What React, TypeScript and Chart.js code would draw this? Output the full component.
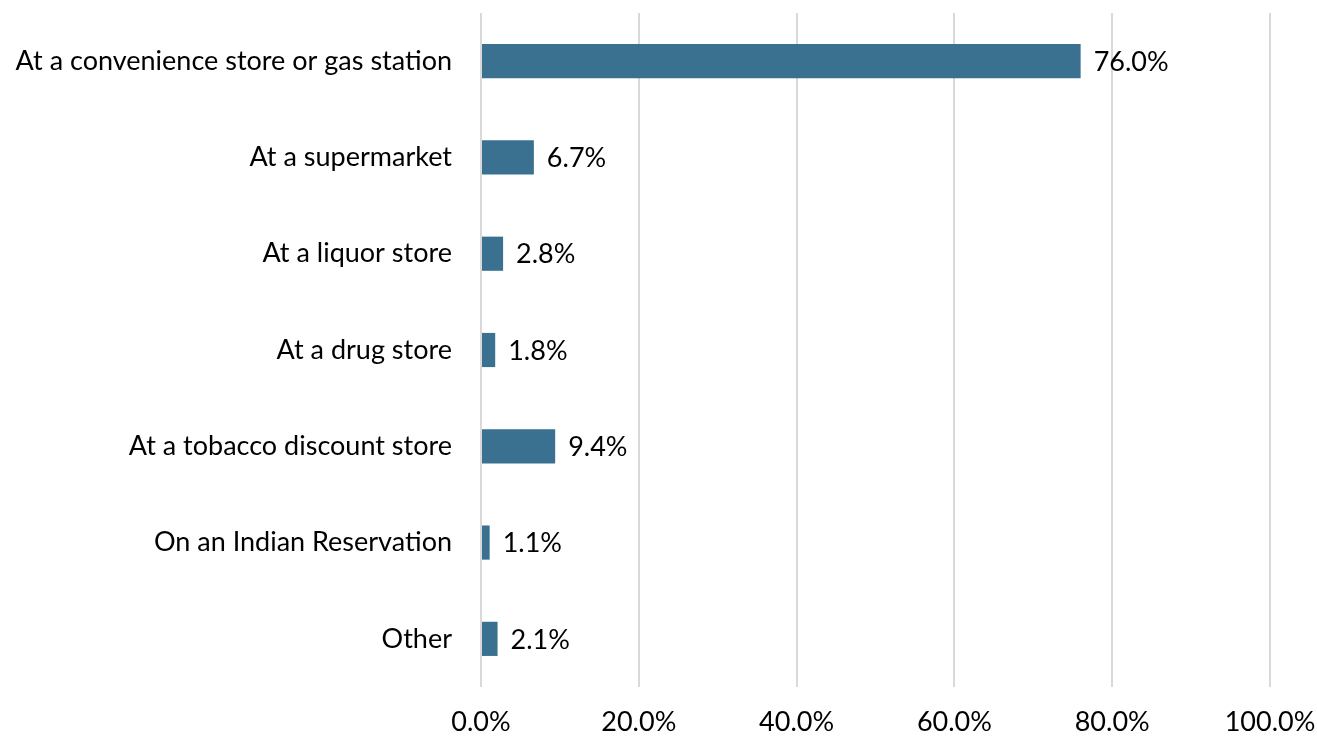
import React, { useEffect, useRef } from "react";
import { Chart, registerables } from "chart.js";

Chart.register(...registerables);

const categories = [
  "At a convenience store or gas station",
  "At a supermarket",
  "At a liquor store",
  "At a drug store",
  "At a tobacco discount store",
  "On an Indian Reservation",
  "Other",
];
const values = [76.0, 6.7, 2.8, 1.8, 9.4, 1.1, 2.1];
const xTicks = [0, 20, 40, 60, 80, 100];

const BAR_COLOR = "#3b7190";
const FONT = "Lato, 'Open Sans', sans-serif";
const FONT_SIZE = 27;

const valueLabels = {
  id: "valueLabels",
  afterDatasetsDraw(chart: any) {
    const ctx = chart.ctx;
    const meta = chart.getDatasetMeta(0);
    ctx.save();
    ctx.font = `${FONT_SIZE}px ${FONT}`;
    ctx.fillStyle = "#000";
    ctx.textAlign = "left";
    ctx.textBaseline = "middle";
    meta.data.forEach((bar: any, i: number) => {
      const v = chart.data.datasets[0].data[i] as number;
      ctx.fillText(v.toFixed(1) + "%", bar.x + 13, bar.y + 1);
    });
    ctx.restore();
  },
};

export default function App() {
  const ref = useRef<HTMLCanvasElement>(null);
  useEffect(() => {
    document.body.style.margin = "0";
    const chart = new Chart(ref.current!, {
      type: "bar",
      data: {
        labels: categories,
        datasets: [
          {
            data: values,
            backgroundColor: BAR_COLOR,
            barPercentage: 0.355,
            categoryPercentage: 1,
          },
        ],
      },
      options: {
        indexAxis: "y",
        animation: false,
        responsive: false,
        maintainAspectRatio: false,
        layout: { padding: { top: 13, right: 47, left: 0, bottom: 0 } },
        plugins: { legend: { display: false }, tooltip: { enabled: false } },
        scales: {
          x: {
            min: 0,
            max: 100,
            afterBuildTicks(scale: any) {
              scale.ticks = xTicks.map((v) => ({ value: v }));
            },
            afterFit(scale: any) {
              scale.height = 51;
              scale.paddingLeft = 0;
              scale.paddingRight = 0;
            },
            grid: { color: "#d9d9d9", lineWidth: 2, drawTicks: false },
            border: { display: false },
            ticks: {
              padding: 19,
              color: "#000",
              font: { family: FONT, size: FONT_SIZE },
              callback: (v: any) => Number(v).toFixed(1) + "%",
              maxRotation: 0,
            },
          },
          y: {
            afterFit(scale: any) {
              scale.width = 481;
              scale.paddingTop = 0;
              scale.paddingBottom = 0;
            },
            grid: { display: false, drawTicks: false },
            border: { display: false },
            ticks: {
              padding: 29,
              color: "#000",
              font: { family: FONT, size: FONT_SIZE },
            },
          },
        },
      },
      plugins: [valueLabels],
    });
    return () => chart.destroy();
  }, []);
  return (
    <div style={{ width: 1317, height: 738 }}>
      <canvas ref={ref} width={1317} height={738} style={{ display: "block" }} />
    </div>
  );
}
